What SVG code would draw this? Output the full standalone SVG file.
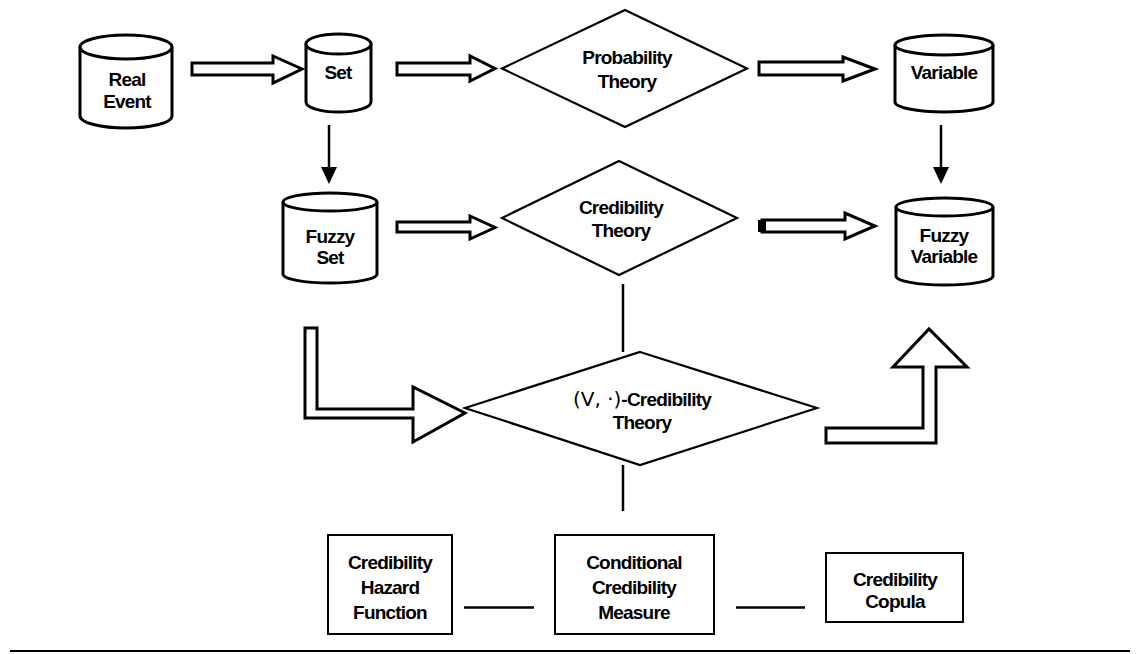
<svg xmlns="http://www.w3.org/2000/svg" width="1139" height="654" viewBox="0 0 1139 654">
<style>
.cyl{fill:#fff;stroke:#000;stroke-width:3}
.dia{fill:#fff;stroke:#000;stroke-width:2.2}
.box{fill:#fff;stroke:#000;stroke-width:2}
.blk{fill:#fff;stroke:#000;stroke-width:3;stroke-linejoin:miter}
.ln{stroke:#000;stroke-width:2.5;fill:none}
.t{font-family:"Liberation Sans",Arial,sans-serif;font-weight:bold;font-size:19px;text-anchor:middle;letter-spacing:-0.8px}
.thin{font-family:"DejaVu Sans",Verdana,sans-serif;font-weight:normal;font-size:20px;letter-spacing:0}
</style>
<rect width="1139" height="654" fill="#fff"/>

<g id="connectors">
<path class="blk" d="M192,63 H273 V56 L302,69 L273,83 V75 H192 Z"/>
<path class="blk" d="M397,63 H470 V56 L495,68.5 L470,81 V75 H397 Z"/>
<path class="blk" d="M759,62 H843 V57 L875,69 L843,81 V75 H759 Z"/>
<path class="blk" d="M397,222 H470 V216 L495,227.5 L470,239 V232 H397 Z"/>
<path class="blk" d="M762,220 H845 V213 L875,226 L845,239 V232 H762 Z"/>
<rect x="758" y="220" width="8" height="12" fill="#000"/>
<line class="ln" x1="329" y1="125" x2="329" y2="168"/>
<polygon points="321,167 337,167 329,184" fill="#000"/>
<line class="ln" x1="941" y1="125" x2="941" y2="168"/>
<polygon points="933,167 949,167 941,184" fill="#000"/>
<line class="ln" x1="623" y1="284" x2="623" y2="352"/>
<line class="ln" x1="623" y1="465" x2="623" y2="511"/>
<path class="blk" d="M305,328 H317 V409 H413 V387 L465,413 L413,442 V418 H305 Z"/>
<path class="blk" d="M826,428 H923 V367 H893 L929,329 L967,367 H936 V443 H826 Z"/>
<line class="ln" x1="464" y1="607.5" x2="534" y2="607.5"/>
<line class="ln" x1="736" y1="607.5" x2="805" y2="607.5"/>
<line x1="10" y1="651" x2="1130" y2="651" stroke="#000" stroke-width="2"/>
</g>

<g id="real-event">
<path class="cyl" d="M80,47 V116 A46,12 0 0 0 172,116 V47"/>
<ellipse class="cyl" cx="126" cy="47" rx="46" ry="12"/>
<text class="t" x="127" y="86">Real</text>
<text class="t" x="127" y="108">Event</text>
</g>

<g id="set">
<path class="cyl" d="M306,44 V102 A32.5,10 0 0 0 371,102 V44"/>
<ellipse class="cyl" cx="338.5" cy="44" rx="32.5" ry="10"/>
<text class="t" x="338" y="79">Set</text>
</g>

<g id="variable">
<path class="cyl" d="M895,45 V102 A49,10 0 0 0 993,102 V45"/>
<ellipse class="cyl" cx="944" cy="45" rx="49" ry="10"/>
<text class="t" x="944" y="79">Variable</text>
</g>

<g id="fuzzy-set">
<path class="cyl" d="M283,202 V274 A47,9 0 0 0 377,274 V202"/>
<ellipse class="cyl" cx="330" cy="202" rx="47" ry="9"/>
<text class="t" x="330" y="243">Fuzzy</text>
<text class="t" x="330" y="264">Set</text>
</g>

<g id="fuzzy-variable">
<path class="cyl" d="M896,207 V276 A48.5,9 0 0 0 993,276 V207"/>
<ellipse class="cyl" cx="944.5" cy="207" rx="48.5" ry="9"/>
<text class="t" x="944" y="242">Fuzzy</text>
<text class="t" x="944" y="263">Variable</text>
</g>

<g id="probability-theory">
<polygon class="dia" points="625,10 747,68.5 625,127 502,68.5"/>
<text class="t" x="627" y="64">Probability</text>
<text class="t" x="627" y="88">Theory</text>
</g>

<g id="credibility-theory">
<polygon class="dia" points="619,161 737,218 619,275 502,218"/>
<text class="t" x="621" y="214">Credibility</text>
<text class="t" x="621" y="237">Theory</text>
</g>

<g id="vee-credibility-theory">
<polygon class="dia" points="640,352 817,408 640,465 465,408"/>
<text class="t" x="642" y="406"><tspan class="thin">(V, ·)</tspan>-Credibility</text>
<text class="t" x="642" y="429">Theory</text>
</g>

<g id="hazard-function">
<rect class="box" x="328" y="535" width="124" height="99"/>
<text class="t" x="390" y="569">Credibility</text>
<text class="t" x="390" y="594">Hazard</text>
<text class="t" x="390" y="619">Function</text>
</g>

<g id="conditional-measure">
<rect class="box" x="555" y="535" width="159" height="99"/>
<text class="t" x="634" y="569">Conditional</text>
<text class="t" x="634" y="594">Credibility</text>
<text class="t" x="634" y="619">Measure</text>
</g>

<g id="copula">
<rect class="box" x="826" y="553" width="137" height="69"/>
<text class="t" x="895" y="586">Credibility</text>
<text class="t" x="895" y="608">Copula</text>
</g>
</svg>
